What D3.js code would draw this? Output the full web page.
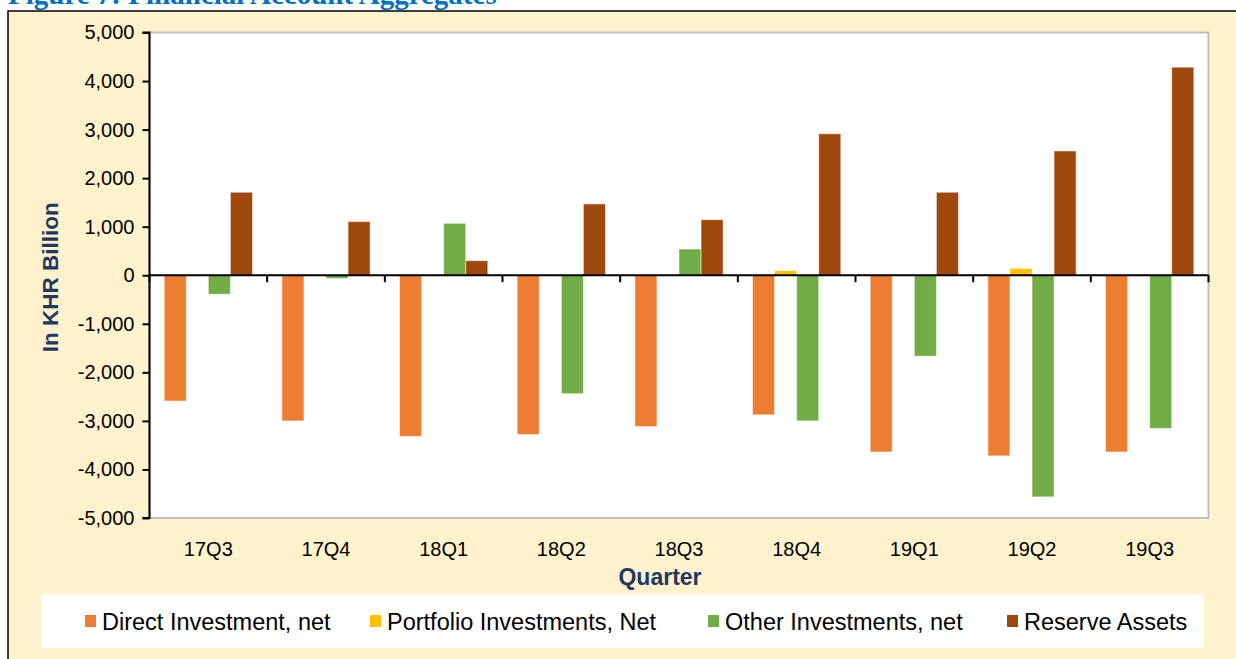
<!DOCTYPE html>
<html>
<head>
<meta charset="utf-8">
<script src="https://cdn.jsdelivr.net/npm/d3@7"></script>
<style>
    body { margin: 0; background: #fff; }
    svg { display: block; font-family: "Liberation Sans", Arial, sans-serif; }
</style>
</head>
<body>
<svg id="chart" width="1236" height="659"></svg>
<script>
// quarters and series (KHR billion)
var quarters = ["17Q3", "17Q4", "18Q1", "18Q2", "18Q3", "18Q4", "19Q1", "19Q2", "19Q3"];
var seriesNames = ["Direct Investment, net", "Portfolio Investments, Net", "Other Investments, net", "Reserve Assets"];
var directInv = [-2590, -3000, -3320, -3280, -3115, -2875, -3640, -3720, -3640];
var portfolioInv = [8, 5, 6, 5, 8, 95, 6, 140, 6];
var otherInv = [-390, -65, 1070, -2440, 540, -3000, -1665, -4565, -3155];
var reserveAssets = [1710, 1105, 300, 1470, 1145, 2915, 1710, 2560, 4285];
var yTicks = [-5000, -4000, -3000, -2000, -1000, 0, 1000, 2000, 3000, 4000, 5000];
var colors = ["#ED7D31", "#FFC000", "#70AD47", "#9E480E"];

(function () {
    var svg = d3.select("#chart");
    var values = [directInv, portfolioInv, otherInv, reserveAssets];

    // outer frame
    svg.append("rect")
        .attr("x", 8).attr("y", 11)
        .attr("width", 1260).attr("height", 680)
        .attr("fill", "#FFF2CC")
        .attr("stroke", "#000")
        .attr("stroke-width", 1.5);

    // title, mostly cut off by the top edge in the source
    svg.append("text")
        .attr("x", 8).attr("y", 4)
        .attr("font-family", "'Liberation Serif', 'DejaVu Serif', serif")
        .attr("font-weight", "bold")
        .attr("font-size", "29px")
        .attr("fill", "#0070C0")
        .text("Figure 7: Financial Account Aggregates");

    var left = 149.5, right = 1208.5, top = 32.5, bottom = 518;

    var x0 = d3.scaleBand().domain(quarters).range([left, right])
        .paddingInner(0.25).paddingOuter(0.125);
    var x1 = d3.scaleBand().domain(d3.range(4)).range([0, x0.bandwidth()]);
    var y = d3.scaleLinear().domain([-5000, 5000]).range([bottom, top]);

    // plot area
    svg.append("rect")
        .attr("x", left).attr("y", top)
        .attr("width", right - left).attr("height", bottom - top)
        .attr("fill", "#fff")
        .attr("stroke", "#BFBFBF")
        .attr("stroke-width", 2);

    // bars
    var g = svg.append("g");
    values.forEach(function (vals, s) {
        g.selectAll(".bar" + s)
            .data(vals)
            .join("rect")
            .attr("x", (d, i) => x0(quarters[i]) + x1(s))
            .attr("width", x1.bandwidth())
            .attr("y", d => y(Math.max(0, d)))
            .attr("height", d => Math.abs(y(d) - y(0)))
            .attr("fill", colors[s])
            .attr("stroke", "rgba(255,255,255,0.5)")
            .attr("stroke-width", 1);
    });

    // y axis
    var fmt = d3.format(",");
    var yAxis = svg.append("g")
        .attr("transform", "translate(" + left + ",0)")
        .call(d3.axisLeft(y).tickValues(yTicks).tickSize(7).tickPadding(8)
            .tickFormat(d => fmt(d).replace("\u2212", "-")));
    yAxis.selectAll("path, line").attr("stroke", "#000").attr("stroke-width", 2);
    yAxis.select(".domain").attr("d", "M-7," + top + "H0V" + bottom + "H-7");
    yAxis.selectAll("text").attr("font-size", "20px").attr("fill", "#000")
        .attr("font-family", "'Liberation Sans', Arial, sans-serif");

    // zero line with category ticks
    svg.append("line")
        .attr("x1", left).attr("x2", right)
        .attr("y1", y(0)).attr("y2", y(0))
        .attr("stroke", "#000").attr("stroke-width", 2);
    var bounds = quarters.map(q => x0(q) - x0.step() * 0.125).concat([right]);
    svg.append("g").selectAll("line")
        .data(bounds)
        .join("line")
        .attr("x1", d => d).attr("x2", d => d)
        .attr("y1", y(0)).attr("y2", y(0) + 7)
        .attr("stroke", "#000").attr("stroke-width", 2);

    // category labels
    svg.append("g").selectAll("text")
        .data(quarters)
        .join("text")
        .attr("x", d => x0(d) + x0.bandwidth() / 2)
        .attr("y", 556)
        .attr("text-anchor", "middle")
        .attr("font-size", "20px")
        .text(d => d);

    // axis titles
    svg.append("text")
        .attr("x", 660).attr("y", 585)
        .attr("text-anchor", "middle")
        .attr("font-weight", "bold")
        .attr("font-size", "23px")
        .attr("fill", "#1F3864")
        .text("Quarter");

    svg.append("text")
        .attr("transform", "translate(58," + (y(0) + 2) + ") rotate(-90)")
        .attr("text-anchor", "middle")
        .attr("font-weight", "bold")
        .attr("font-size", "22.5px")
        .attr("fill", "#1F3864")
        .text("In KHR Billion");

    // legend
    svg.append("rect")
        .attr("x", 41).attr("y", 594)
        .attr("width", 1163).attr("height", 54)
        .attr("fill", "#fff");

    var legendX = [85, 370, 708, 1007];
    var lg = svg.append("g").selectAll("g")
        .data(seriesNames)
        .join("g")
        .attr("transform", (d, i) => "translate(" + legendX[i] + ",615)");
    lg.append("rect")
        .attr("width", 11).attr("height", 12)
        .attr("fill", (d, i) => colors[i]);
    lg.append("text")
        .attr("x", 17).attr("y", 15)
        .attr("font-size", "23.5px")
        .text(d => d);
})();
</script>
</body>
</html>
